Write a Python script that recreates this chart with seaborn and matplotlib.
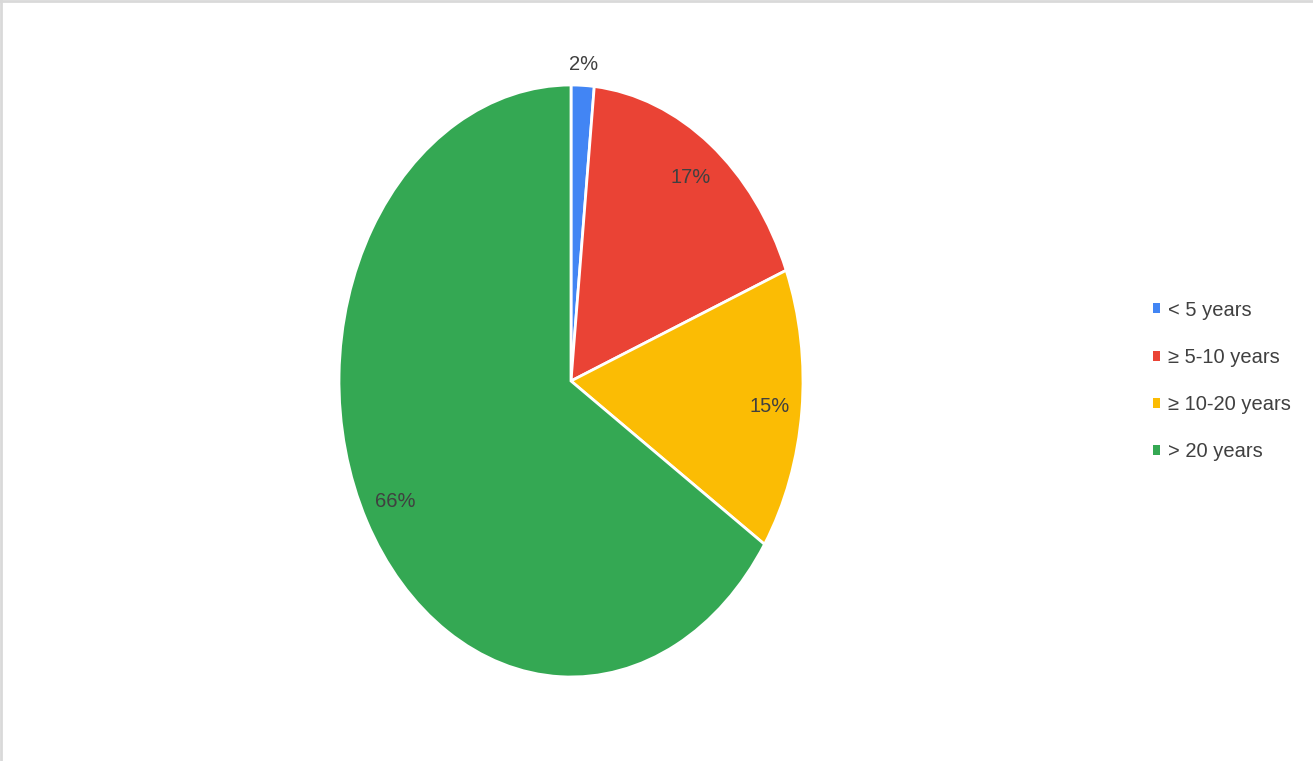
import numpy as np
import matplotlib
matplotlib.use("Agg")
import matplotlib.pyplot as plt
from matplotlib.lines import Line2D
from matplotlib.patches import Patch
import seaborn as sns

sns.set_theme(style="white")
plt.rcParams["font.family"] = ["Liberation Sans", "DejaVu Sans"]
FS = 14.5

# data
categories = ["< 5 years", "\u2265 5-10 years", "\u2265 10-20 years", "> 20 years"]
shares = [1.6, 17.3, 15.4, 65.7]
colors = ["#4285F4", "#EA4335", "#FBBC04", "#34A853"]
TEXT = "#404040"

W, H = 1313, 761
fig = plt.figure(figsize=(W / 100, H / 100), dpi=100)
# pie bbox in pixels: x 339-803, y 85-677 (elliptical, stretched vertically)
ax = fig.add_axes([339 / W, (H - 677) / H, 464 / W, 592 / H])

wedges, texts, autotexts = ax.pie(
    shares, colors=colors, startangle=90, counterclock=False,
    autopct="%.0f%%", pctdistance=0.86,
    wedgeprops=dict(edgecolor="white", linewidth=2),
    textprops=dict(color=TEXT, fontsize=FS),
)
ax.set_aspect("auto")
ax.set_xlim(-1, 1)
ax.set_ylim(-1, 1)

# small first slice gets its label outside
mid = np.deg2rad(90 - 360 * shares[0] / 2 / sum(shares))
autotexts[0].set_position((1.07 * np.cos(mid), 1.07 * np.sin(mid)))

px = FS * 100 / 72  # font size in pixels
handles = [Patch(facecolor=c, edgecolor="none") for c in colors]
fig.legend(handles, categories, loc="center left",
           bbox_to_anchor=(1153 / W, 1 - 381 / H), frameon=False,
           fontsize=FS, labelcolor=TEXT, borderpad=0, borderaxespad=0,
           handlelength=7 / px, handleheight=8 / px, handletextpad=8 / px,
           labelspacing=(47 - 0.93 * px) / px)

# light frame on top/left edge
fig.add_artist(Line2D([0, 1], [1 - 1 / H, 1 - 1 / H], color="#d9d9d9", lw=2,
                      transform=fig.transFigure))
fig.add_artist(Line2D([1 / W, 1 / W], [0, 1], color="#d9d9d9", lw=2,
                      transform=fig.transFigure))

fig.savefig("out.png", dpi=100, facecolor="white")
